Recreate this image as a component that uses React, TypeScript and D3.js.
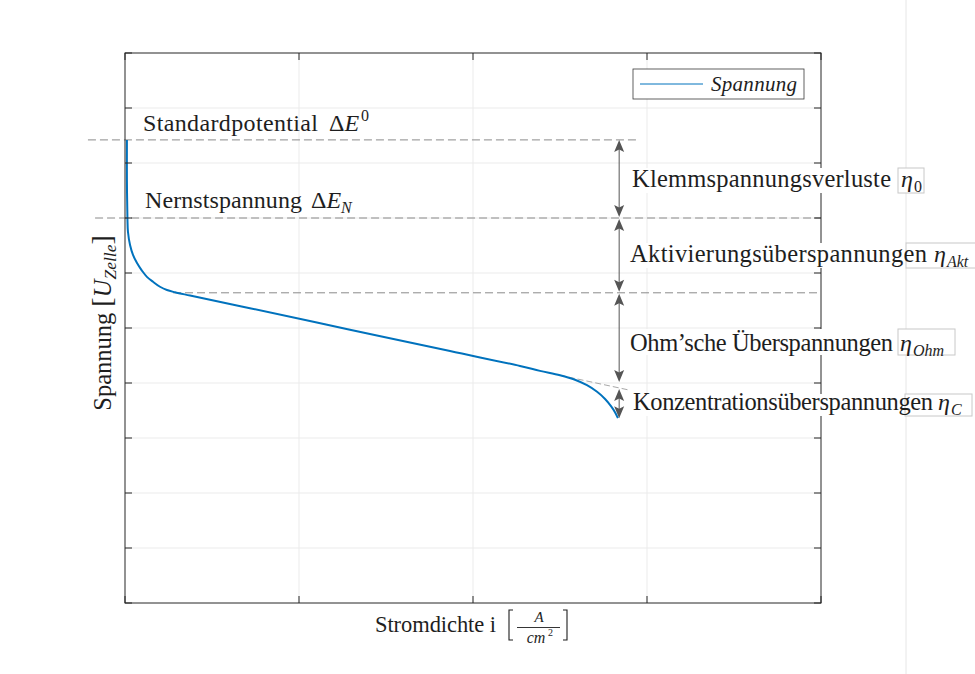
import React from "react";
import * as d3 from "d3";

// Polarisation curve of the cell: current density i vs. cell voltage U
const currentDensity = [
  0.011, 0.011, 0.014, 0.017, 0.029, 0.046, 0.069, 0.098, 0.126, 0.161, 0.201, 0.241,
  0.287, 0.374, 0.718, 1.293, 1.868, 2.27, 2.385, 2.5, 2.586, 2.655, 2.713, 2.759,
  2.793, 2.816, 2.833,
];
const cellVoltage = [
  8.42, 7.69, 7.0, 6.75, 6.51, 6.33, 6.18, 6.04, 5.93, 5.84, 5.75, 5.69,
  5.65, 5.59, 5.36, 4.97, 4.58, 4.31, 4.22, 4.14, 4.06, 3.96, 3.84, 3.71,
  3.58, 3.47, 3.36,
];

const iTicks = [0, 1, 2, 3, 4];
const uTicks = [0, 1, 2, 3, 4, 5, 6, 7, 8, 9, 10];

// characteristic voltage levels
const standardPotential = 8.42;
const nernstVoltage = 7.0;
const activationEnd = 5.64;
const ohmicEnd = 4.0;
const concentrationStart = 3.91;
const concentrationEnd = 3.36;
const arrowCurrent = 2.84;

// ohmic extrapolation
const ohmicLineI = [2.5, 2.9];
const ohmicLineU = [4.14, 3.87];

const lossNames = [
  "Klemmspannungsverluste",
  "Aktivierungsüberspannungen",
  "Ohm\u2019sche Überspannungen",
  "Konzentrationsüberspannungen",
];
const lossSymbols = ["0", "Akt", "Ohm", "C"];
const lossRanges: [number, number][] = [
  [standardPotential, nernstVoltage],
  [nernstVoltage, activationEnd],
  [activationEnd, ohmicEnd],
  [concentrationStart, concentrationEnd],
];

const legendLabel = "Spannung";

const W = 975;
const H = 674;
const M = { left: 125, right: 821, top: 53, bottom: 603 };

const FONT = "'Liberation Serif', 'Times New Roman', serif";
const INK = "#1e1e1e";
const AXIS = "#262626";
const GRID = "#ebebeb";
const DASH = "#8a8a8a";
const BLUE = "#0072BD";
const ARROW = "#555555";

// text boxes for the loss annotations (pixel layout)
const lossLayout = [
  { x: 632, base: 187, w: 259, etaX: 901, boxL: 898, boxR: 924, top: 168, bottom: 193, italicSub: false },
  { x: 630, base: 262, w: 297, etaX: 934, boxL: 906, boxR: 990, top: 243, bottom: 268, italicSub: true },
  { x: 630, base: 351, w: 263, etaX: 900, boxL: 898, boxR: 955, top: 329, bottom: 355, italicSub: true },
  { x: 633, base: 410, w: 300, etaX: 938, boxL: 905, boxR: 972, top: 394, bottom: 416, italicSub: true },
];

export default function App() {
  const x = d3.scaleLinear().domain([0, 4]).range([M.left, M.right]);
  const y = d3.scaleLinear().domain([0, 10]).range([M.bottom, M.top]);

  const pts: [number, number][] = currentDensity.map((d, k) => [d, cellVoltage[k]]);
  const line = d3
    .line<[number, number]>()
    .x((d) => x(d[0]))
    .y((d) => y(d[1]))
    .curve(d3.curveCatmullRom.alpha(0.5));

  const ax = x(arrowCurrent);

  const head = (tipY: number, dir: number, key: string) => {
    const b = tipY - dir * 12;
    const n = tipY - dir * 9.5;
    return (
      <polygon
        key={key}
        points={`${ax},${tipY} ${ax - 5},${b} ${ax},${n} ${ax + 5},${b}`}
        fill={ARROW}
      />
    );
  };

  return (
    <svg
      width={W}
      height={H}
      viewBox={`0 0 ${W} ${H}`}
      style={{ position: "absolute", left: 0, top: 0, display: "block", background: "#fff" }}
      fontFamily={FONT}
    >
      <rect x={0} y={0} width={W} height={H} fill="#ffffff" />

      {/* grid */}
      {uTicks.slice(1, -1).map((t) => (
        <line key={"gy" + t} x1={M.left} x2={M.right} y1={y(t)} y2={y(t)} stroke={GRID} strokeWidth={1} />
      ))}
      {iTicks.slice(1, -1).map((t) => (
        <line key={"gx" + t} x1={x(t)} x2={x(t)} y1={M.top} y2={M.bottom} stroke={GRID} strokeWidth={1} />
      ))}

      {/* reference levels */}
      <line x1={x(-0.213)} x2={x(2.937)} y1={y(standardPotential)} y2={y(standardPotential)} stroke={DASH} strokeDasharray="8 4" strokeWidth={1} />
      <line x1={x(-0.172)} x2={x(4)} y1={y(nernstVoltage)} y2={y(nernstVoltage)} stroke={DASH} strokeDasharray="8 4" strokeWidth={1} />
      <line x1={x(0.276)} x2={x(4)} y1={y(activationEnd)} y2={y(activationEnd)} stroke={DASH} strokeDasharray="8 4" strokeWidth={1} />

      {/* ohmic extrapolation */}
      <line
        x1={x(ohmicLineI[0])}
        x2={x(ohmicLineI[1])}
        y1={y(ohmicLineU[0])}
        y2={y(ohmicLineU[1])}
        stroke="#a8a8a8"
        strokeDasharray="6 3"
        strokeWidth={1}
      />

      {/* curve */}
      <path d={line(pts) || ""} fill="none" stroke={BLUE} strokeWidth={2} />

      {/* axes box and ticks */}
      <rect x={M.left} y={M.top} width={M.right - M.left} height={M.bottom - M.top} fill="none" stroke={AXIS} strokeWidth={1} />
      {uTicks.map((t) => (
        <g key={"ty" + t}>
          <line x1={M.left} x2={M.left + 7} y1={y(t)} y2={y(t)} stroke={AXIS} />
          <line x1={M.right} x2={M.right - 7} y1={y(t)} y2={y(t)} stroke={AXIS} />
        </g>
      ))}
      {iTicks.map((t) => (
        <g key={"tx" + t}>
          <line x1={x(t)} x2={x(t)} y1={M.bottom} y2={M.bottom - 7} stroke={AXIS} />
          <line x1={x(t)} x2={x(t)} y1={M.top} y2={M.top + 7} stroke={AXIS} />
        </g>
      ))}

      {/* legend */}
      <rect x={633} y={69} width={171} height={30} fill="#fff" stroke="#3a3a3a" strokeWidth={0.8} />
      <line x1={640} x2={703} y1={84} y2={84} stroke={BLUE} strokeWidth={1} />
      <text x={711} y={91} fontSize={21} fontStyle="italic" fill={INK} textLength={86} lengthAdjust="spacing">
        {legendLabel}
      </text>

      {/* figure edge */}
      <line x1={906} x2={906} y1={0} y2={H} stroke="#e6e6e6" strokeWidth={1} />

      {/* loss arrows */}
      {lossRanges.map(([u0, u1], k) => {
        const yTop = y(u0) + (k === 0 ? 0 : 1);
        const yBot = y(u1) - (k === lossRanges.length - 1 ? 0 : 1);
        return (
          <g key={"arr" + k}>
            <line x1={ax} x2={ax} y1={yTop + 4} y2={yBot - 4} stroke={ARROW} strokeWidth={1} />
            {head(yTop, -1, "u")}
            {head(yBot, 1, "d")}
          </g>
        );
      })}

      {/* loss labels */}
      {lossNames.map((name, k) => {
        const L = lossLayout[k];
        return (
          <g key={"lbl" + k}>
            <rect x={L.x - 3} y={L.top} width={L.boxR - L.x + 3} height={L.bottom - L.top} fill="#fff" />
            <rect x={L.boxL} y={L.top} width={L.boxR - L.boxL} height={L.bottom - L.top} fill="none" stroke="#c8c8c8" strokeWidth={1} />
            <text x={L.x} y={L.base} fontSize={24.5} fill={INK} textLength={L.w} lengthAdjust="spacing">
              {name}
            </text>
            <text x={L.etaX} y={L.base} fontSize={24} fill={INK}>
              <tspan fontStyle="italic">η</tspan>
              <tspan fontSize={16} dy={5} dx={1} fontStyle={L.italicSub ? "italic" : "normal"}>
                {lossSymbols[k]}
              </tspan>
            </text>
          </g>
        );
      })}

      {/* level labels */}
      <text x={143} y={131} fontSize={24} fill={INK} textLength={175} lengthAdjust="spacing">
        Standardpotential
      </text>
      <text x={329} y={131} fontSize={24} fill={INK}>
        Δ<tspan fontStyle="italic">E</tspan>
        <tspan fontSize={16} dy={-10} dx={2}>0</tspan>
      </text>
      <text x={145} y={208} fontSize={24} fill={INK} textLength={157} lengthAdjust="spacing">
        Nernstspannung
      </text>
      <text x={311} y={208} fontSize={24} fill={INK}>
        Δ<tspan fontStyle="italic">E</tspan>
        <tspan fontSize={16} dy={5} fontStyle="italic">N</tspan>
      </text>

      {/* y axis label */}
      <text transform="translate(111,323) rotate(-90)" textAnchor="middle" fontSize={24.5} fill={INK}>
        Spannung <tspan fontSize={28}>[</tspan>
        <tspan fontStyle="italic">U</tspan>
        <tspan fontSize={17.5} dy={5} fontStyle="italic">Zelle</tspan>
        <tspan dy={-5} fontSize={28}>]</tspan>
      </text>

      {/* x axis label */}
      <text x={375} y={632} fontSize={22.5} fill={INK} textLength={121} lengthAdjust="spacing">
        Stromdichte i
      </text>
      <path d="M513,610 H509 V640 H513" fill="none" stroke={INK} strokeWidth={1.1} />
      <text x={539} y={622} fontSize={15} fontStyle="italic" fill={INK} textAnchor="middle">A</text>
      <line x1={517} x2={560} y1={627.5} y2={627.5} stroke={INK} strokeWidth={0.9} />
      <text x={536} y={643} fontSize={16} fontStyle="italic" fill={INK} textAnchor="middle">cm</text>
      <text x={548} y={636} fontSize={10} fill={INK}>2</text>
      <path d="M563,610 H567 V640 H563" fill="none" stroke={INK} strokeWidth={1.1} />
    </svg>
  );
}
